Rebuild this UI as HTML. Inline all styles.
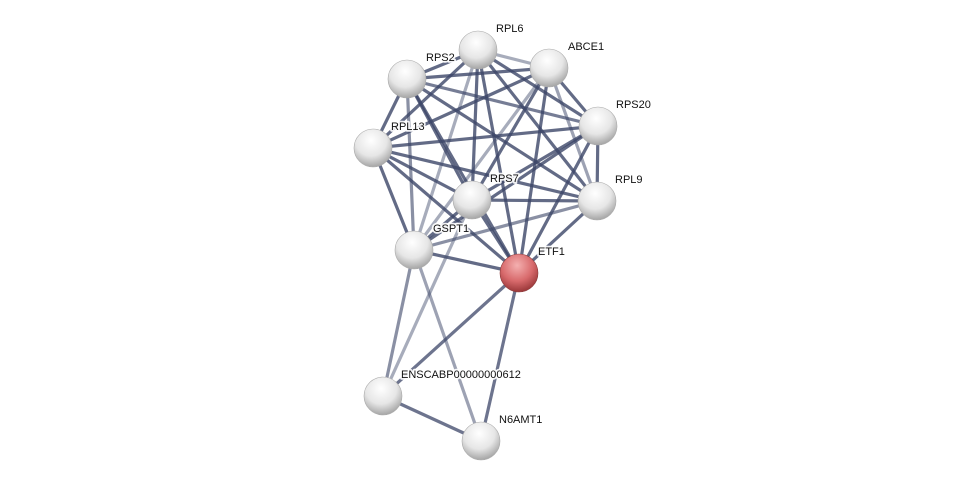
<!DOCTYPE html>
<html><head><meta charset="utf-8"><style>
html,body{margin:0;padding:0;background:#fff;width:975px;height:486px;overflow:hidden}
svg text{font-family:"Liberation Sans",Arial,sans-serif;font-size:11px;fill:#111;stroke:#fff;stroke-width:3.5px;stroke-opacity:0.9;paint-order:stroke;stroke-linejoin:round}
</style></head><body>
<svg width="975" height="486" xmlns="http://www.w3.org/2000/svg">
<defs>
<radialGradient id="g" cx="0.45" cy="0.3" r="0.75">
<stop offset="0" stop-color="#ffffff"/><stop offset="0.55" stop-color="#e6e6e6"/><stop offset="1" stop-color="#9a9a9a"/></radialGradient>
<radialGradient id="r" cx="0.45" cy="0.3" r="0.75">
<stop offset="0" stop-color="#f4b0b0"/><stop offset="0.55" stop-color="#d86a6c"/><stop offset="1" stop-color="#8f2e30"/></radialGradient>
</defs>
<g stroke="#3c4668" stroke-width="3.2" stroke-linecap="round" stroke-opacity="0.8">
<line x1="478" y1="50" x2="549" y2="68" stroke-opacity="0.45"/>
<line x1="478" y1="50" x2="407" y2="79"/>
<line x1="478" y1="50" x2="598" y2="126"/>
<line x1="478" y1="50" x2="373" y2="148"/>
<line x1="478" y1="50" x2="472" y2="200"/>
<line x1="478" y1="50" x2="597" y2="201"/>
<line x1="478" y1="50" x2="414" y2="250" stroke-opacity="0.45"/>
<line x1="478" y1="50" x2="519" y2="273"/>
<line x1="549" y1="68" x2="407" y2="79"/>
<line x1="549" y1="68" x2="598" y2="126"/>
<line x1="549" y1="68" x2="373" y2="148"/>
<line x1="549" y1="68" x2="472" y2="200"/>
<line x1="549" y1="68" x2="597" y2="201" stroke-opacity="0.5"/>
<line x1="549" y1="68" x2="414" y2="250" stroke-opacity="0.45"/>
<line x1="549" y1="68" x2="519" y2="273"/>
<line x1="407" y1="79" x2="598" y2="126" stroke-opacity="0.7"/>
<line x1="407" y1="79" x2="373" y2="148"/>
<line x1="407" y1="79" x2="472" y2="200"/>
<line x1="407" y1="79" x2="597" y2="201"/>
<line x1="407" y1="79" x2="414" y2="250" stroke-opacity="0.6"/>
<line x1="407" y1="79" x2="519" y2="273"/>
<line x1="598" y1="126" x2="373" y2="148"/>
<line x1="598" y1="126" x2="472" y2="200"/>
<line x1="598" y1="126" x2="597" y2="201"/>
<line x1="598" y1="126" x2="414" y2="250"/>
<line x1="598" y1="126" x2="519" y2="273"/>
<line x1="373" y1="148" x2="472" y2="200"/>
<line x1="373" y1="148" x2="597" y2="201"/>
<line x1="373" y1="148" x2="414" y2="250"/>
<line x1="373" y1="148" x2="519" y2="273"/>
<line x1="472" y1="200" x2="597" y2="201"/>
<line x1="472" y1="200" x2="414" y2="250"/>
<line x1="472" y1="200" x2="519" y2="273"/>
<line x1="597" y1="201" x2="414" y2="250" stroke-opacity="0.6"/>
<line x1="597" y1="201" x2="519" y2="273"/>
<line x1="414" y1="250" x2="519" y2="273"/>
<line x1="414" y1="250" x2="383" y2="396" stroke-opacity="0.6"/>
<line x1="414" y1="250" x2="481" y2="441" stroke-opacity="0.5"/>
<line x1="519" y1="273" x2="383" y2="396" stroke-opacity="0.75"/>
<line x1="519" y1="273" x2="481" y2="441" stroke-opacity="0.75"/>
<line x1="383" y1="396" x2="481" y2="441" stroke-opacity="0.75"/>
<line x1="472" y1="200" x2="383" y2="396" stroke-opacity="0.45"/>
</g>
<g stroke="#aaa" stroke-width="0.6" fill="url(#g)">
<circle cx="478" cy="50" r="19"/>
<circle cx="549" cy="68" r="19"/>
<circle cx="407" cy="79" r="19"/>
<circle cx="598" cy="126" r="19"/>
<circle cx="373" cy="148" r="19"/>
<circle cx="472" cy="200" r="19"/>
<circle cx="597" cy="201" r="19"/>
<circle cx="414" cy="250" r="19"/>
<circle cx="383" cy="396" r="19"/>
<circle cx="481" cy="441" r="19"/>
<circle cx="519" cy="273" r="19" fill="url(#r)" stroke="#8a3a3a"/>
</g>
<g>
<text x="496" y="32">RPL6</text>
<text x="568" y="50">ABCE1</text>
<text x="426" y="61">RPS2</text>
<text x="616" y="108">RPS20</text>
<text x="391" y="130">RPL13</text>
<text x="490" y="182">RPS7</text>
<text x="615" y="183">RPL9</text>
<text x="433" y="232">GSPT1</text>
<text x="538" y="255">ETF1</text>
<text x="401" y="378">ENSCABP00000000612</text>
<text x="499" y="423">N6AMT1</text>
</g>
</svg>
</body></html>
